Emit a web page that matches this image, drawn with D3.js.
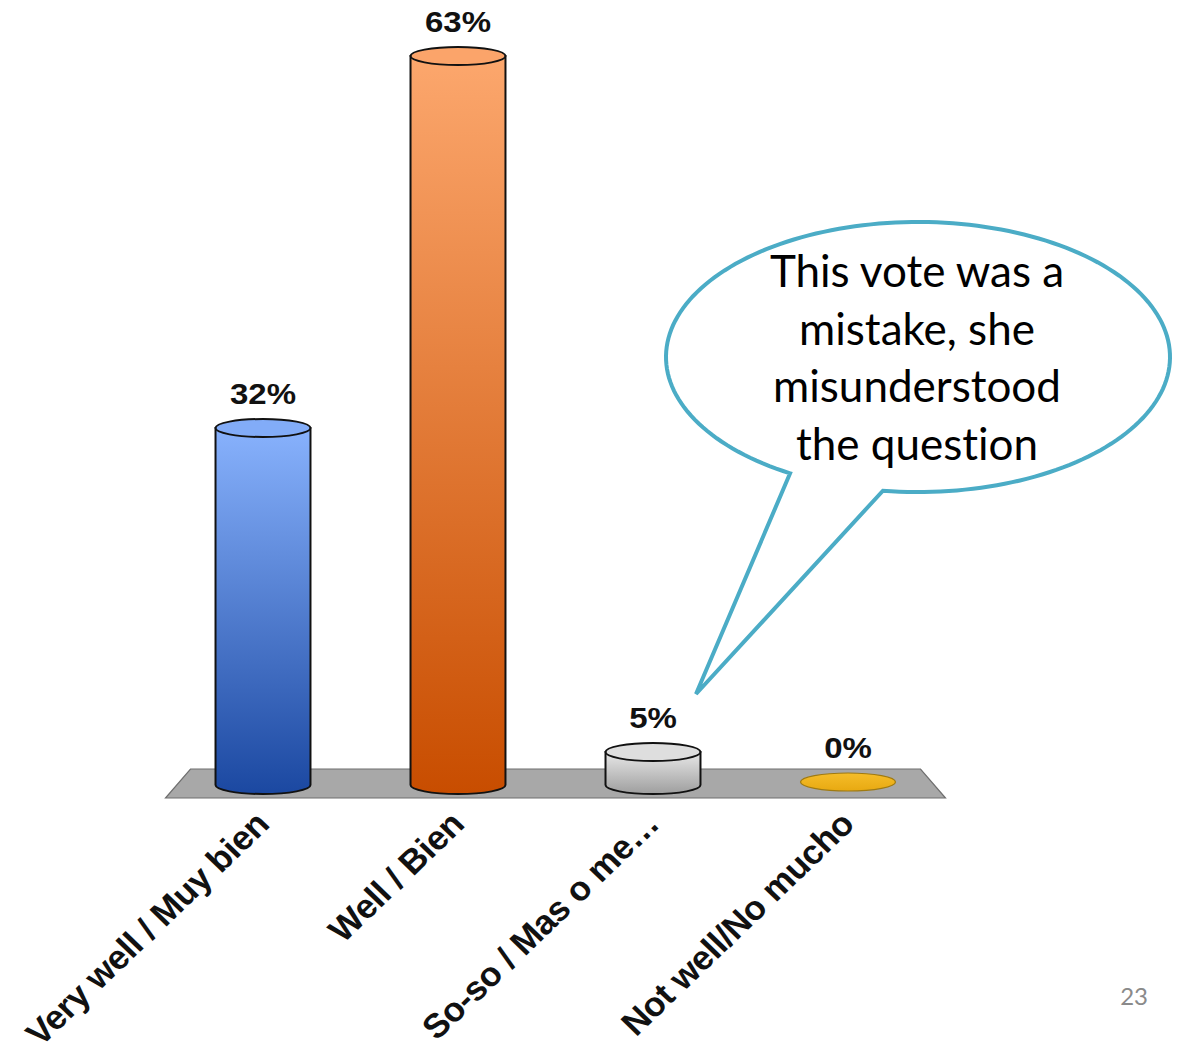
<!DOCTYPE html>
<html>
<head>
<meta charset="utf-8">
<script src="https://cdn.jsdelivr.net/npm/d3@7"></script>
<style>
  html, body { margin: 0; padding: 0; background: #fff; }
  svg { display: block; }
</style>
</head>
<body>
<svg id="chart" width="1179" height="1046"></svg>
<script>
// Survey answers and their share of votes
const categories = ["Very well / Muy bien", "Well / Bien", "So-so / Mas o me\u2026", "Not well/No mucho"];
const percents = [32, 63, 5, 0];
const calloutLines = ["This vote was a", "mistake, she", "misunderstood", "the question"];
const pageNumber = "23";

// Gradient stops per bar (top, bottom), cap colour and outline
const barTop = ["#88b2fd", "#fca76d", "#e8e8e8", "#f5bd2a"];
const barBottom = ["#1b48a1", "#c84d00", "#9e9e9e", "#e8a911"];
const capFill = ["#82acf8", "#fba46a", "#dedede", "#f2b823"];
const outline = ["#111", "#111", "#111", "#a07a10"];

const svg = d3.select("#chart");
const defs = svg.append("defs");

const x = d3.scaleBand()
  .domain(categories)
  .range([165.5, 945.5])
  .paddingInner(0.513)
  .paddingOuter(0.2565);

const y = d3.scaleLinear().domain([0, 63]).range([812, 56]);

const floorY = 785;      // centre of the bar base ellipses
const ry = 9;            // vertical radius of the cylinder ellipses

// Grey floor plane
const [r0, r1] = x.range();
svg.append("path")
  .attr("d", `M${r0 + 25},769 L${r1 - 25},769 L${r1},798 L${r0},798 Z`)
  .attr("fill", "#a8a8a8")
  .attr("stroke", "#6f6f6f")
  .attr("stroke-width", 1.2);

categories.forEach((c, i) => {
  const g = defs.append("linearGradient")
    .attr("id", "grad" + i)
    .attr("x1", 0).attr("y1", 0).attr("x2", 0).attr("y2", 1);
  g.append("stop").attr("offset", "0%").attr("stop-color", barTop[i]);
  g.append("stop").attr("offset", "100%").attr("stop-color", barBottom[i]);
});

const bars = svg.append("g").selectAll("g")
  .data(categories.map((c, i) => ({ c, v: percents[i], i })))
  .join("g");

bars.each(function (d) {
  const g = d3.select(this);
  const rx = x.bandwidth() / 2;
  const left = x(d.c);
  const right = left + x.bandwidth();
  const cx = left + rx;
  const top = Math.min(y(d.v), floorY - 3);

  if (d.v > 0) {
    // Cylinder body with rounded base
    g.append("path")
      .attr("d", `M${left},${top} L${left},${floorY} A${rx},${ry} 0 0 0 ${right},${floorY} L${right},${top} Z`)
      .attr("fill", `url(#grad${d.i})`)
      .attr("stroke", outline[d.i])
      .attr("stroke-width", 2);
  }
  // Cap ellipse
  g.append("ellipse")
    .attr("cx", cx).attr("cy", top)
    .attr("rx", rx).attr("ry", ry)
    .attr("fill", d.v > 0 ? capFill[d.i] : `url(#grad${d.i})`)
    .attr("stroke", outline[d.i])
    .attr("stroke-width", d.v > 0 ? 2 : 1.2);

  // Value label
  g.append("text")
    .attr("transform", `translate(${cx},${top - ry - 15}) scale(1.1,1)`)
    .attr("text-anchor", "middle")
    .attr("font-family", "'Liberation Sans', Arial, sans-serif")
    .attr("font-weight", "bold")
    .attr("font-size", 30)
    .attr("fill", "#111")
    .text(d.v + "%");

  // Rotated category label
  g.append("text")
    .attr("transform", `translate(${cx + 8},${826}) scale(1.04,1) rotate(-45)`)
    .attr("text-anchor", "end")
    .attr("font-family", "'Liberation Sans', Arial, sans-serif")
    .attr("font-weight", "bold")
    .attr("font-size", 34)
    .attr("letter-spacing", -0.4)
    .attr("fill", "#111")
    .text(d.c);
});

// Speech-bubble callout pointing at the So-so bar
const bc = { cx: 918, cy: 357, rx: 252, ry: 135 };
const tip = [696, 694];
const a0 = 120.5 * Math.PI / 180;
const a1 = (360 + 98) * Math.PI / 180;
const pts = d3.range(0, 181).map(k => {
  const t = a0 + (a1 - a0) * k / 180;
  return [bc.cx + bc.rx * Math.cos(t), bc.cy + bc.ry * Math.sin(t)];
});
pts.push(tip);
svg.append("path")
  .attr("d", d3.line()(pts) + "Z")
  .attr("fill", "#fff")
  .attr("stroke", "#4bacc6")
  .attr("stroke-width", 4)
  .attr("stroke-linejoin", "miter");

svg.append("g").selectAll("text")
  .data(calloutLines)
  .join("text")
  .attr("x", 917)
  .attr("y", (d, i) => 287 + i * 57.5)
  .attr("text-anchor", "middle")
  .attr("font-family", "Lato, 'Open Sans', sans-serif")
  .attr("font-size", 44)
  .style("font-variant-ligatures", "none")
  .attr("fill", "#000")
  .text(d => d);

// Slide number
svg.append("text")
  .attr("x", 1148).attr("y", 1005)
  .attr("text-anchor", "end")
  .attr("font-family", "Lato, sans-serif")
  .attr("font-size", 24)
  .attr("fill", "#8a8a8a")
  .text(pageNumber);
</script>
</body>
</html>
